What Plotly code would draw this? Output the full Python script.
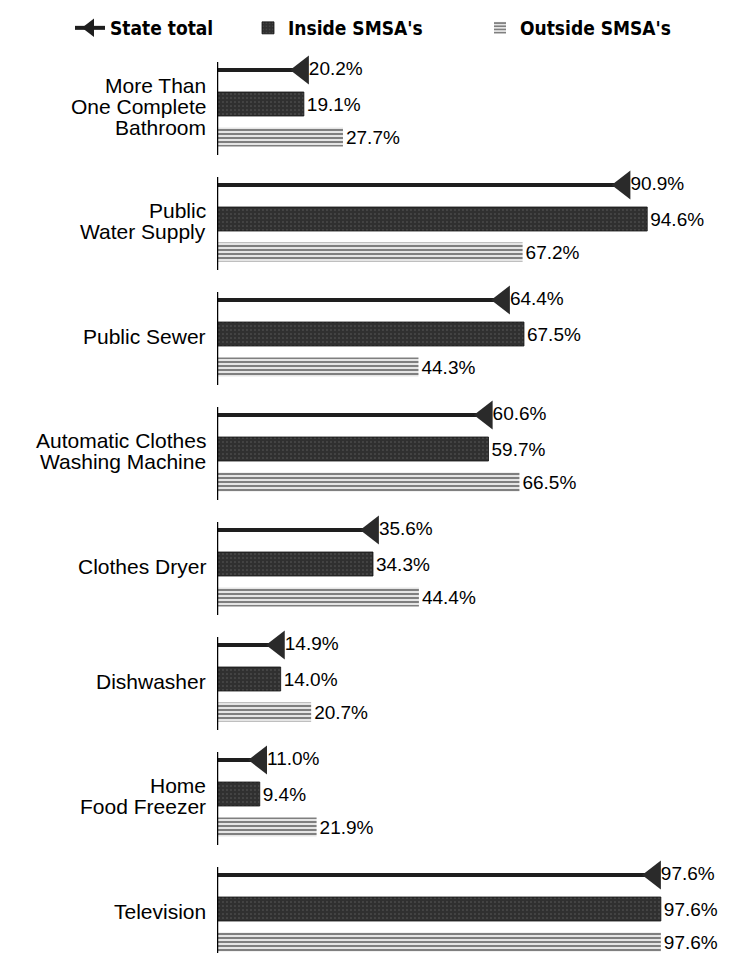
import plotly.graph_objects as go

# ---- data ----
categories = [
    "More Than<br>One Complete<br>Bathroom",
    "Public<br>Water Supply",
    "Public Sewer",
    "Automatic Clothes<br>Washing Machine",
    "Clothes Dryer",
    "Dishwasher",
    "Home<br>Food Freezer",
    "Television",
]
state_total = [20.2, 90.9, 64.4, 60.6, 35.6, 14.9, 11.0, 97.6]
inside_smsa = [19.1, 94.6, 67.5, 59.7, 34.3, 14.0, 9.4, 97.6]
outside_smsa = [27.7, 67.2, 44.3, 66.5, 44.4, 20.7, 21.9, 97.6]
series_names = ["State total", "Inside SMSA's", "Outside SMSA's"]

# ---- layout geometry ----
W, H = 732, 953
ML, MR, MT, MB = 209, 0, 40, 5
XMAX = 115.0
PX = (W - ML - MR) / XMAX          # pixels per percent
GROUP0, STEP = 96, 115
n = len(categories)
centers = [GROUP0 + STEP * i for i in range(n)]
y_state = [c - 34 for c in centers]
y_out = [c + 33 for c in centers]

TRI = 25                            # triangle marker size (px)
tri_x = [v - (TRI / 4) / PX for v in state_total]

FONT = "Liberation Sans, Arial, sans-serif"
LEGFONT = dict(family="DejaVu Sans Condensed, DejaVu Sans, sans-serif",
               size=19, color="black", weight="bold")

fig = go.Figure()

# group baselines
bx, by = [], []
for c in centers:
    bx += [0, 0, None]
    by += [c - 42, c + 51, None]
fig.add_trace(go.Scatter(x=bx, y=by, mode="lines", line=dict(color="black", width=2.5),
                         showlegend=False, hoverinfo="skip"))

# state total: thin bar + triangle
fig.add_trace(go.Bar(x=tri_x, y=y_state, orientation="h", width=4,
                     marker=dict(color="#1e1e1e", line=dict(width=0)),
                     showlegend=False, hoverinfo="skip"))
fig.add_trace(go.Scatter(x=tri_x, y=y_state, mode="markers",
                         marker=dict(symbol="triangle-left", size=TRI, color="#2a2a2a",
                                     line=dict(width=0)),
                         showlegend=False, hoverinfo="skip"))
fig.add_trace(go.Scatter(x=state_total, y=y_state, mode="text",
                         text=[f"{v:.1f}%" for v in state_total],
                         textposition="middle right",
                         textfont=dict(family=FONT, size=19, color="black"),
                         showlegend=False, hoverinfo="skip", cliponaxis=False))
# legend entry for state total
fig.add_trace(go.Scatter(x=[None], y=[None], mode="lines+markers", name=series_names[0],
                         line=dict(color="#1e1e1e", width=4),
                         marker=dict(symbol="triangle-left", size=16, color="#1e1e1e"),
                         legend="legend"))

# inside SMSA's
fig.add_trace(go.Bar(x=inside_smsa, y=centers, orientation="h", width=24,
                     name=series_names[1], legend="legend2",
                     marker=dict(color="#303030",
                                 pattern=dict(shape=".", fgcolor="#8a8a8a", bgcolor="#303030",
                                              size=4, solidity=0.12),
                                 line=dict(width=0.8, color="#111")),
                     texttemplate="%{x:.1f}%", textposition="outside", constraintext="none",
                     textfont=dict(family=FONT, size=19, color="black"),
                     cliponaxis=False, hoverinfo="skip"))

# outside SMSA's
fig.add_trace(go.Bar(x=outside_smsa, y=y_out, orientation="h", width=19,
                     name=series_names[2], legend="legend3",
                     marker=dict(color="white",
                                 pattern=dict(shape="-", fgcolor="black", bgcolor="white",
                                              size=4, solidity=0.6),
                                 line=dict(width=0)),
                     texttemplate="%{x:.1f}%", textposition="outside", constraintext="none",
                     textfont=dict(family=FONT, size=19, color="black"),
                     cliponaxis=False, hoverinfo="skip"))

# category labels (one annotation per text line for tight line spacing)
LINE_H = 21
annotations = []
for c, label in zip(centers, categories):
    lines = label.split("<br>")
    k = len(lines)
    for j, ln in enumerate(lines):
        annotations.append(dict(
            x=0, y=c + 2 + (j - (k - 1) / 2) * LINE_H, xref="x", yref="y",
            text=ln, showarrow=False, xanchor="right", yanchor="middle", xshift=-9,
            font=dict(family=FONT, size=21, color="black")))


def leg(x):
    return dict(orientation="h", xref="container", yref="container",
                x=x, xanchor="left", y=1 - 1 / H, yanchor="top",
                font=LEGFONT, bgcolor="rgba(0,0,0,0)", borderwidth=0, itemwidth=30)


fig.update_layout(
    width=W, height=H,
    margin=dict(l=ML, r=MR, t=MT, b=MB, autoexpand=False),
    paper_bgcolor="white", plot_bgcolor="white",
    barmode="overlay",
    showlegend=True,
    legend=leg(62 / W),
    legend2=leg(240 / W),
    legend3=leg(472 / W),
    annotations=annotations,
    xaxis=dict(range=[0, XMAX], visible=False, fixedrange=True, automargin=False),
    yaxis=dict(range=[H - MB, MT], autorange=False, visible=False, fixedrange=True,
               automargin=False),
)

fig.write_html("out.html")
